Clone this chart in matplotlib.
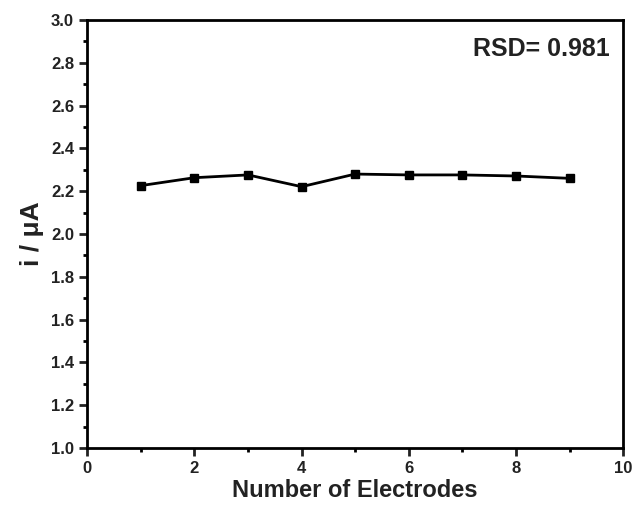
import numpy as np
import matplotlib
matplotlib.use('Agg')
import matplotlib.pyplot as plt
from matplotlib.ticker import MultipleLocator

# data
electrodes = [1, 2, 3, 4, 5, 6, 7, 8, 9]
current = [2.226, 2.263, 2.276, 2.221, 2.280, 2.276, 2.276, 2.271, 2.260]

plt.rcParams['font.family'] = ['Liberation Sans', 'DejaVu Sans']
plt.rcParams['font.weight'] = 'bold'

fig = plt.figure(figsize=(6.32, 5.12), dpi=100)
ax = fig.add_axes([0.138, 0.125, 0.848, 0.836])

ax.plot(electrodes, current, color='black', lw=2, marker='s', ms=6)

ax.set_xlim(0, 10)
ax.set_ylim(1.0, 3.0)
ax.xaxis.set_major_locator(MultipleLocator(2))
ax.xaxis.set_minor_locator(MultipleLocator(1))
ax.yaxis.set_major_locator(MultipleLocator(0.2))
ax.yaxis.set_minor_locator(MultipleLocator(0.1))
ax.yaxis.set_major_formatter(matplotlib.ticker.FormatStrFormatter('%.1f'))

for s in ax.spines.values():
    s.set_linewidth(2)
ax.tick_params(which='major', direction='out', length=6, width=2, labelsize=12, colors='#222222')
ax.tick_params(which='minor', direction='out', length=3, width=2)

ax.set_xlabel('Number of Electrodes', fontsize=17, fontweight='bold', color='#222222', labelpad=2)
ax.set_ylabel('i / \u03bcA', fontsize=19, fontweight='bold', color='#222222', labelpad=5)
ax.text(0.975, 0.96, 'RSD= 0.981', transform=ax.transAxes, ha='right', va='top',
        fontsize=18, fontweight='bold', color='#222222')

fig.savefig('out.png', dpi=100)
